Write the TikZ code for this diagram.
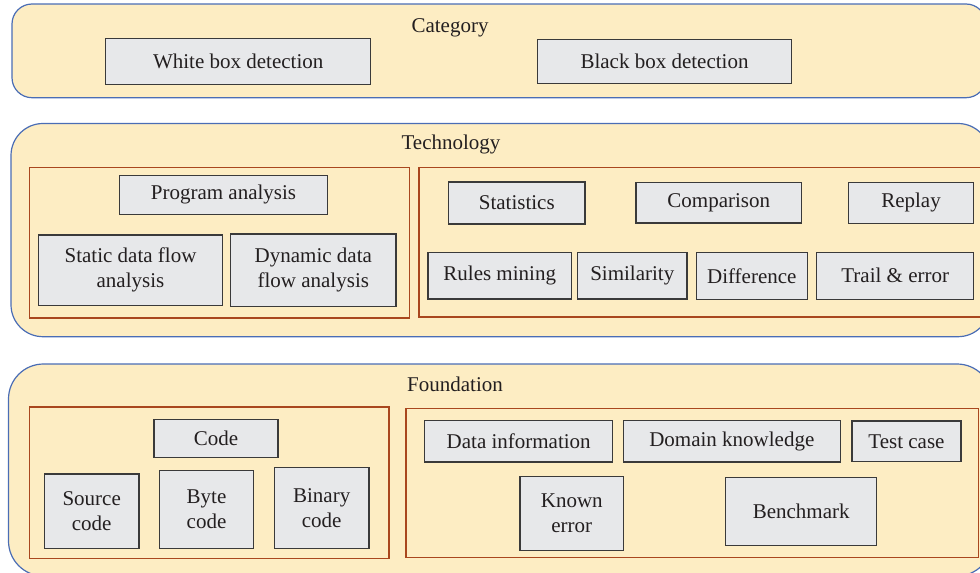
\documentclass[tikz,border=0pt]{standalone}
\usepackage{fontspec}
\setmainfont{Liberation Serif}
\usepackage{xcolor}

\definecolor{panelfill}{HTML}{FDEDC3}
\definecolor{panelline}{HTML}{4A6DB5}
\definecolor{groupline}{HTML}{A9471E}
\definecolor{itemfill}{HTML}{E7E8EA}
\definecolor{itemline}{HTML}{3A3A3A}
\definecolor{textcol}{HTML}{231F20}

\begin{document}
\begin{tikzpicture}[x=1pt, y=-1pt, font=\rmfamily\fontsize{21}{25}\selectfont, text=textcol,
    panel/.style={draw=panelline, fill=panelfill, line width=1.2pt},
    group/.style={draw=groupline, line width=1.3pt},
    item/.style={draw=itemline, fill=itemfill, line width=1.2pt, inner sep=0pt, align=center}]
    \clip (0, 0) rectangle (980, 573);

    % layers
    \draw[panel, rounded corners=20pt] (12, 4) rectangle (986, 97.7);
    \draw[panel, rounded corners=32pt] (11, 123.5) rectangle (990, 336.7);
    \draw[panel, rounded corners=35pt] (8.5, 364) rectangle (992, 576);

    \node[anchor=base] (category) at (450, 32.7) {Category};
    \node[anchor=base] (technology) at (451, 149.7) {Technology};
    \node[anchor=base] (foundation) at (455, 391.7) {Foundation};

    \draw[group] (29.3, 167.3) rectangle (409.3, 318);
    \draw[group] (419, 167.3) rectangle (985, 317);
    \draw[group] (29.3, 407) rectangle (389, 558.3);
    \draw[group] (406, 408.3) rectangle (978.3, 557.3);

    % category
    \node[item, minimum width=265, minimum height=46.4] (whitebox) at (238.2, 61.5) {White box detection};
    \node[item, minimum width=254.4, minimum height=44.4] (blackbox) at (664.5, 61.5) {Black box detection};

    % technology
    \node[item, minimum width=208.4, minimum height=39] (progana) at (223.5, 194.8) {Program analysis};
    \node[item, minimum width=184.4, minimum height=70.7] (staticflow) at (130.5, 270.3) {Static data flow\\analysis};
    \node[item, minimum width=165.3, minimum height=72.7] (dynflow) at (313.3, 270.3) {Dynamic data\\flow analysis};
    \node[item, minimum width=136.3, minimum height=42] (stats) at (516.8, 203) {Statistics};
    \node[item, minimum width=165.7, minimum height=40.3] (compare) at (718.8, 202.8) {Comparison};
    \node[item, minimum width=125.4, minimum height=41] (replay) at (911, 202.8) {Replay};
    \node[item, minimum width=143.3, minimum height=46.3] (rules) at (499.7, 275.8) {Rules mining};
    \node[item, minimum width=109.3, minimum height=46.3] (similar) at (632.3, 275.8) {Similarity};
    \node[item, minimum width=111, minimum height=47] (differ) at (751.8, 275.8) {Difference};
    \node[item, minimum width=157, minimum height=47] (trail) at (895.2, 275.8) {Trail \& error};

    % foundation
    \node[item, minimum width=124, minimum height=37.6] (code) at (216, 438.5) {Code};
    \node[item, minimum width=94.7, minimum height=74.3] (source) at (91.7, 511.2) {Source\\code};
    \node[item, minimum width=94.4, minimum height=77.6] (byte) at (206.5, 509.5) {Byte\\code};
    \node[item, minimum width=94.7, minimum height=81] (binary) at (321.7, 507.8) {Binary\\code};
    \node[item, minimum width=188, minimum height=41.3] (datainfo) at (518.7, 441.3) {Data information};
    \node[item, minimum width=217, minimum height=41.3] (domain) at (731.8, 441.3) {Domain knowledge};
    \node[item, minimum width=109, minimum height=40.7] (testcase) at (906.5, 441.3) {Test case};
    \node[item, minimum width=103.7, minimum height=74] (known) at (571.8, 513.7) {Known\\error};
    \node[item, minimum width=151, minimum height=67.6] (bench) at (801.2, 511.5) {Benchmark};
\end{tikzpicture}
\end{document}
